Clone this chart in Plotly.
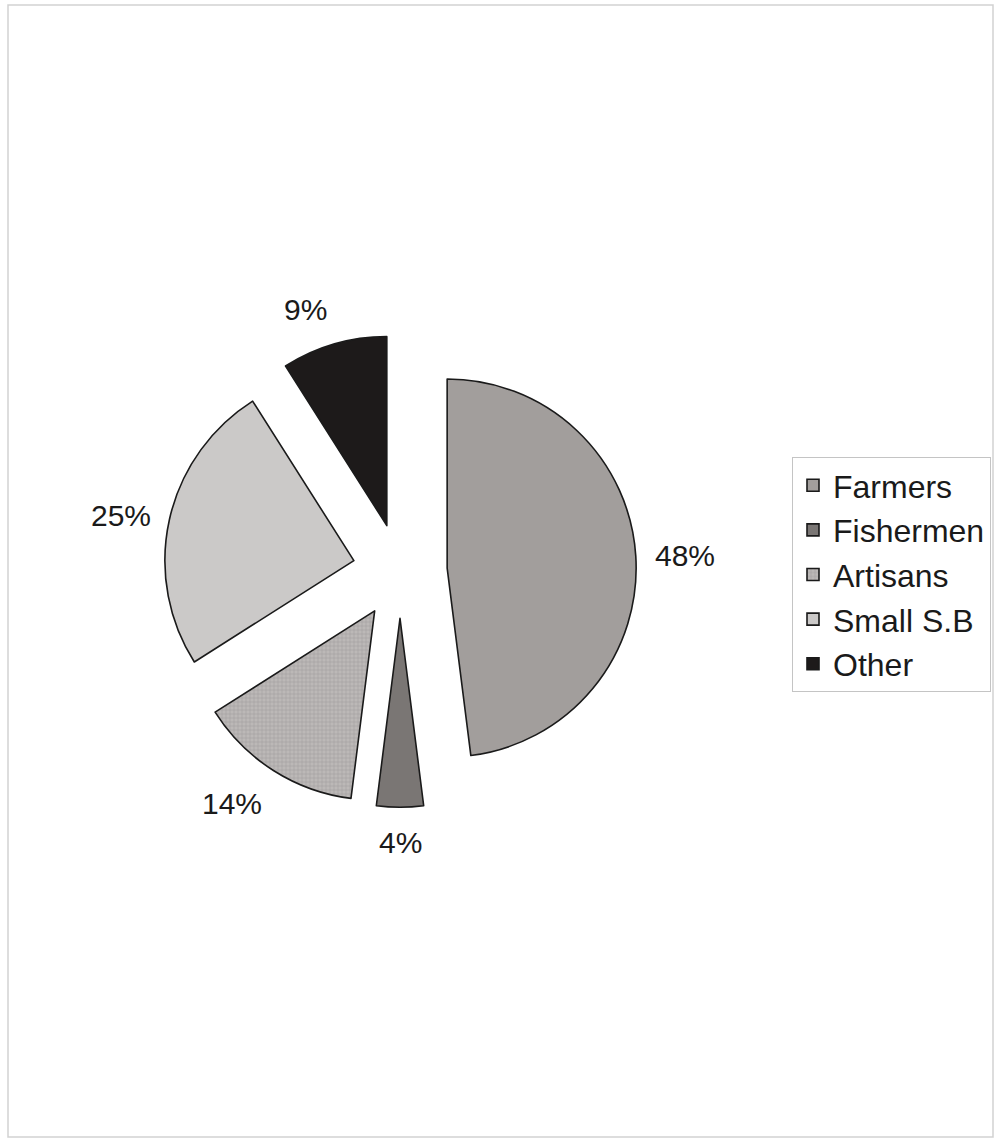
import math
import plotly.graph_objects as go

# Occupational breakdown of borrowers
categories = ["Farmers", "Fishermen", "Artisans", "Small S.B", "Other"]
shares = [48, 4, 14, 25, 9]
slice_colors = ["#a29e9c", "#7a7674", "#bcb8b7", "#cbc9c8", "#1d1a1a"]
slice_patterns = ["", "", "+", "", ""]

W, H = 995, 1140
CX, CY = 400, 571        # pie centre, px from the top-left corner
RADIUS = 189             # slice radius in px
PULL = 0.25              # every slice is exploded by the same fraction
LABEL_RADIUS = 253       # distance of the percentage labels from the centre
FONT = "Liberation Sans, Arial, sans-serif"
INK = "#1a1a1a"

half = RADIUS * (1 + PULL)
pie_domain = dict(
    x=[(CX - half) / W, (CX + half) / W],
    y=[(H - CY - half) / H, (H - CY + half) / H],
)

fig = go.Figure()

# exploded slices
fig.add_trace(go.Pie(
    labels=categories,
    values=shares,
    sort=False,
    direction="clockwise",
    rotation=0,
    pull=PULL,
    domain=pie_domain,
    marker=dict(
        colors=slice_colors,
        line=dict(color=INK, width=1.6),
        pattern=dict(shape=slice_patterns, size=4, solidity=0.3,
                     fgcolor="#8e8a89", fillmode="overlay"),
    ),
    textinfo="none",
    hoverinfo="label+percent",
    showlegend=True,
))

# percentage labels just outside each slice, along its mid-angle
total = sum(shares)
annotations = []
start = 0.0
for share in shares:
    mid = math.radians((start + share / 2) / total * 360)
    start += share
    sx, sy = math.sin(mid), math.cos(mid)
    px = CX + LABEL_RADIUS * sx
    py = CY - LABEL_RADIUS * sy
    xanchor = "left" if sx > 0.15 else ("right" if sx < -0.15 else "center")
    yanchor = "bottom" if sy > 0.5 else ("top" if sy < -0.5 else "middle")
    annotations.append(dict(
        x=px / W, y=1 - py / H, xref="paper", yref="paper",
        text=f"{share / total:.0%}",
        showarrow=False,
        xanchor=xanchor, yanchor=yanchor,
        font=dict(family=FONT, size=30, color=INK),
    ))

fig.update_layout(
    width=W,
    height=H,
    margin=dict(l=0, r=0, t=0, b=0),
    paper_bgcolor="white",
    plot_bgcolor="white",
    font=dict(family=FONT, color=INK),
    annotations=annotations,
    legend=dict(
        x=792 / W, y=1 - 457 / H,
        xanchor="left", yanchor="top",
        bgcolor="white",
        bordercolor="#c4c4c4",
        borderwidth=1,
        font=dict(family=FONT, size=32, color=INK),
        traceorder="normal",
    ),
    shapes=[dict(
        type="rect", xref="paper", yref="paper",
        x0=8 / W, x1=993 / W, y0=1 - 1137 / H, y1=1 - 5 / H,
        line=dict(color="#d2d2d2", width=1.5),
        fillcolor="rgba(0,0,0,0)",
        layer="below",
    )],
)

fig.write_html("out.html")
